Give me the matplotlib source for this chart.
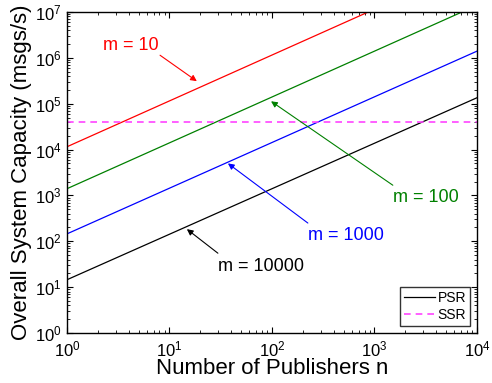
import matplotlib
matplotlib.use("Agg")
import matplotlib.pyplot as plt

plt.rcParams['font.family'] = ['Liberation Sans', 'DejaVu Sans']
plt.rcParams['mathtext.fontset'] = 'custom'
plt.rcParams['mathtext.rm'] = 'Liberation Sans'
plt.rcParams['mathtext.it'] = 'Liberation Sans'

# publishers n (line end points, log-log straight lines)
n_pub = [1, 10000]
psr_m10 = [1.15e4, 1.15e8]
psr_m100 = [1.4e3, 1.4e7]
psr_m1000 = [1.45e2, 1.4e6]
psr_m10000 = [14.5, 1.35e5]
ssr = [4e4, 4e4]

colors = ['red', 'green', 'blue', 'black']
labels = ['m = 10', 'm = 100', 'm = 1000', 'm = 10000']

fig = plt.figure(figsize=(4.92, 3.83), dpi=100)
ax = fig.add_axes([0.136, 0.1305, 0.8335, 0.8382])

series = [psr_m10, psr_m100, psr_m1000, psr_m10000]
for ys, c in zip(series, colors):
    ax.plot(n_pub, ys, color=c, lw=0.9)

# legend handles
ax.plot([], [], color='black', lw=0.9, label='PSR')
ax.plot(n_pub, ssr, color='#ff44ff', lw=1.2, ls=(0, (4, 3)), label='SSR')

ax.set_xscale('log')
ax.set_yscale('log')
ax.set_xlim(1, 1e4)
ax.set_ylim(1, 1e7)
ax.set_xticks([1, 10, 100, 1000, 10000])
ax.set_yticks([1, 10, 100, 1e3, 1e4, 1e5, 1e6, 1e7])
ax.tick_params(which='both', direction='in', top=True, right=True, labelsize=12)
ax.tick_params(axis='x', which='major', pad=5)
ax.tick_params(axis='y', which='major', pad=4)
ax.tick_params(which='major', length=4)
ax.tick_params(which='minor', length=2)
for s in ax.spines.values():
    s.set_linewidth(1.0)

ax.set_xlabel('Number of Publishers n', fontsize=16, labelpad=-1)
ax.set_ylabel('Overall System Capacity (msgs/s)', fontsize=16, labelpad=2)

# annotations: text left/centre position, arrow start and tip (data coords)
ann_text = [(2.24, 1.87e6), (1.51e3, 9.2e2), (2.24e2, 1.36e2), (29.7, 28.8)]
ann_start = [(8.1, 1.14e6), (1.51e3, 1.67e3), (2.24e2, 2.5e2), (29.7, 55.0)]
ann_tip = [(18.5, 3.1e5), (98.0, 1.13e5), (37.2, 5.0e3), (14.8, 1.84e2)]
for lab, c, tp, tip, st in zip(labels, colors, ann_text, ann_tip, ann_start):
    ax.annotate('', xy=tip, xytext=st,
                arrowprops=dict(arrowstyle='-|>', color=c, lw=0.8,
                                mutation_scale=9, shrinkA=0, shrinkB=0))
    ax.text(tp[0], tp[1], lab, color=c, fontsize=13, ha='left', va='center')

leg = ax.legend(loc='lower right', fontsize=10, frameon=True, fancybox=False,
                handlelength=2.2, handletextpad=0.2, borderpad=0.3,
                labelspacing=0.2, borderaxespad=0.5)
leg.get_frame().set_edgecolor('black')
leg.get_frame().set_linewidth(1.0)

fig.savefig('out.png', dpi=100)
